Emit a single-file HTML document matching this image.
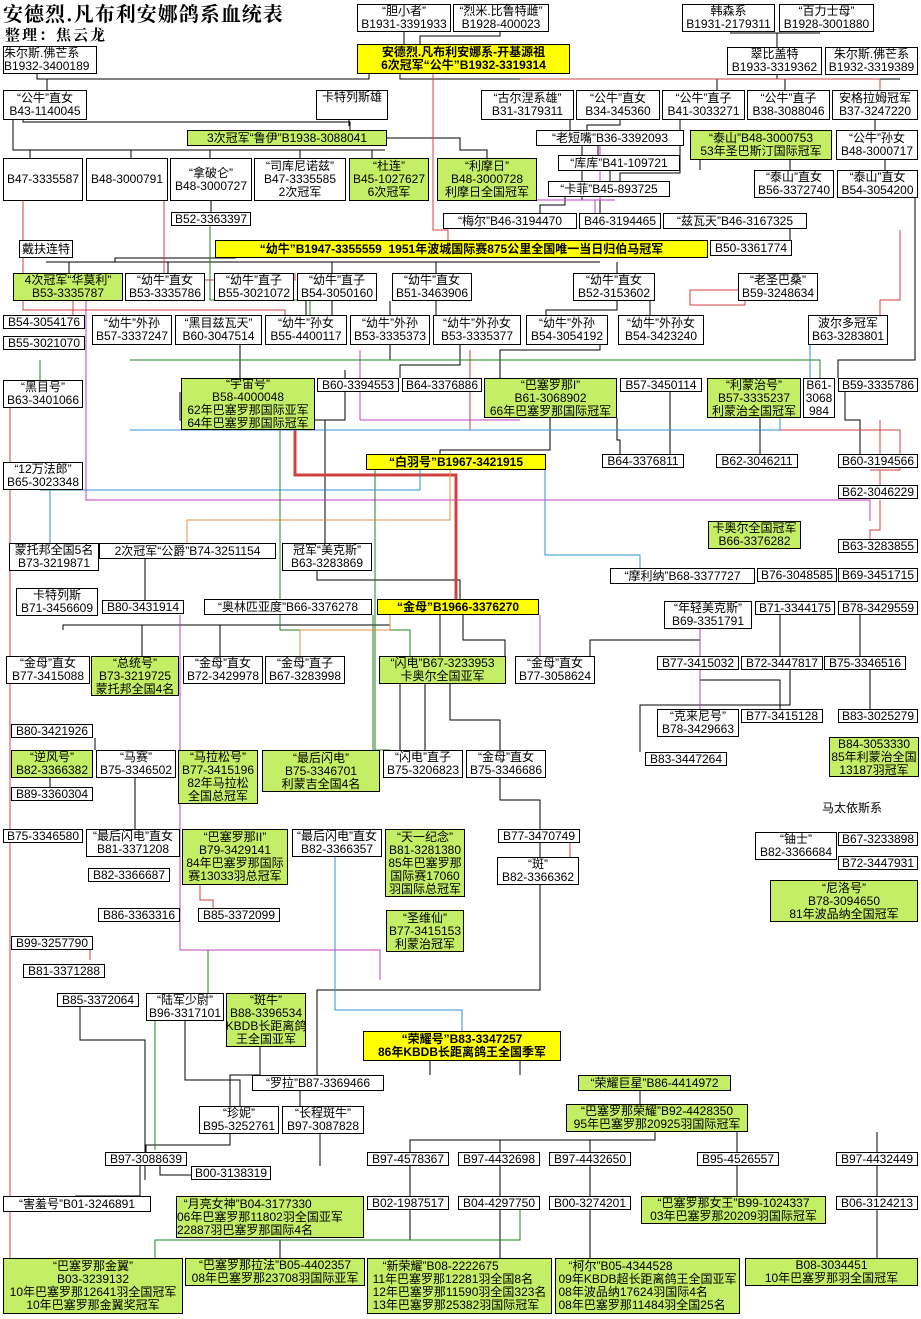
<!DOCTYPE html>
<html><head><meta charset="utf-8"><style>
html,body{margin:0;padding:0;background:#fff}
body{width:921px;height:1319px;position:relative;overflow:hidden;font-family:"Liberation Sans","WenQuanYi Zen Hei","Noto Sans CJK SC",sans-serif}
.n{position:absolute;border:1px solid #000;background:#fff;font-size:12px;line-height:13px;text-align:center;white-space:nowrap;overflow:hidden;box-sizing:border-box;display:flex;align-items:center;justify-content:center;z-index:2}
.g{background:#c4ee66}
.y{background:#ffff00;font-weight:bold}
svg{position:absolute;left:0;top:0;z-index:1}
.t{position:absolute;font-family:"Noto Serif CJK SC","Liberation Serif",serif;font-weight:bold;white-space:nowrap}
</style></head><body>
<div class="t" style="left:3px;top:-2px;font-size:20px;letter-spacing:1px">安德烈.凡布利安娜鸽系血统表</div>
<div class="t" style="left:5px;top:24px;font-size:15px;letter-spacing:2px">整理：焦云龙</div>
<svg width="921" height="1319" fill="none" stroke-width="1">
<g stroke="#000">
<path d="M404 32V44M500 32V36H420V44M730 33H820M777 33V47"/>
<path d="M37 74V79H369V74M47 79V90M400 74V79H900M717 79V90M785 79V90M777 75V79"/>
<path d="M23 120V122H350V130M349 120V126M13 120V150H385M30 150V158M131 150V158M210 150V158M300 150V158M372 150V158M387 138H460V150H487V158"/>
<path d="M211 201V212M115 262V258H235V248M46 262H600M69 262V273M168 262V273M332 262V273M436 262V273M617 262V273"/>
<path d="M617 301V310H546V315M650 301V315M436 301V315M390 301V315M332 301V315M306 301V315"/>
<path d="M570 120V130M620 120V125H587V130M598 146V155M610 171V181M680 120V173H620V181M582 146V200H600V213M565 197V205H540V213M700 160V170M790 160V170M885 160V170M875 120V130M790 229V240"/>
<path d="M915 198V360H838V378M600 345V350H500V378M390 345V360H360V378M240 345V360H240V378M460 345V365H400V378"/>
<path d="M180 392V420H345V392M325 420V543M345 392V370M550 392V450H440V454M617 418V440H620V454M670 392V454M760 392V454M845 392V420H860V454"/>
<path d="M145 556V600M317 571V580H460V599M390 615V625H63V630M142 625V656M220 625V656M463 615V640H505V656M440 615V656M700 629V640H590V656M780 615V656M860 615V656"/>
<path d="M700 669V680H780V709M790 669V705H640V752M870 669V709M400 684V750M425 684V750M450 684V720H500V750M500 764V800H540V829M540 843V857M95 738V750M50 778V787M135 778V829M520 1060V1075M430 1060V1075M540 885V990H317V1075M260 1047V1075H230V1106M300 1091V1106"/>
<path d="M640 1091V1104M655 1132V1140H410V1152M500 1140V1152M590 1140V1152M737 1132V1152M877 1132V1152M410 1166V1196M500 1166V1196M590 1166V1196M877 1166V1196M737 1166V1196M590 1210V1258M877 1210V1258M500 1210V1258M410 1210V1240H280V1258"/>
<path d="M230 1134V1145H146V1152M320 1134V1166M140 1166V1196H75M191 1175H160V1152M80 1007V1040H145V1180M185 1007V1080H240V1106"/>
</g>
<g stroke="#d04040">
<path d="M433 74V230H448V240M520 79H880V90M164 201V280H295V273M745 301V305H690V290H776V273M23 201V310H285V315M10 388V1260M73 290V315M900 230V300H880V315M880 420V454M880 470V485M880 500V530H870V539M470 350V430H900V470H870"/>
<path d="M200 880V900H213V908M90 940V960M570 843V857"/>
<path d="M295 430V475H456V599" stroke-width="3"/>
</g>
<g stroke="#c040c0">
<path d="M600 135V200H595V213M535 200H615M86 301V500H870V521M180 615V950H380V980M360 350V420M360 420H520M700 629V690M540 615V656M700 684V709"/>
</g>
<g stroke="#208020">
<path d="M210 212V300H310V315M130 360H820V378M40 360V380M280 430V630H410V656M375 470V750H390M373 615V760M520 1210V1240H155V1258M208 950V1000M155 1007V1150"/>
</g>
<g stroke="#3090d0">
<path d="M40 490H420V455M50 490V543M130 430H780V378M420 455H545V555H640V568M335 829V1010H462V1031M810 330V410"/>
</g>
<g stroke="#e09040">
<path d="M450 470V520H187V543M390 615V630H300V656"/>
</g>
</svg>

<div class="n" style="left:357px;top:4px;width:94px;height:28px">“胆小者”<br>B1931-3391933</div>
<div class="n" style="left:453px;top:4px;width:96px;height:28px">“烈米.比鲁特雌”<br>B1928-400023</div>
<div class="n" style="left:682px;top:4px;width:93px;height:28px">韩森系<br>B1931-2179311</div>
<div class="n" style="left:779px;top:4px;width:95px;height:28px">“百力士母”<br>B1928-3001880</div>
<div class="n y" style="left:357px;top:44px;width:213px;height:30px">安德烈.凡布利安娜系-开基源祖<br>6次冠军“公牛”B1932-3319314</div>
<div class="n" style="left:3px;top:46px;width:94px;height:28px;justify-content:flex-start;text-align:left">朱尔斯.佛芒系<br>B1932-3400189</div>
<div class="n" style="left:727px;top:47px;width:95px;height:28px">翠比盖特<br>B1933-3319362</div>
<div class="n" style="left:825px;top:47px;width:93px;height:28px">朱尔斯.佛芒系<br>B1932-3319389</div>

<div class="n" style="left:3px;top:90px;width:84px;height:30px">“公牛”直女<br>B43-1140045</div>
<div class="n" style="left:316px;top:90px;width:72px;height:30px;align-items:flex-start">卡特列斯雄</div>
<div class="n" style="left:481px;top:90px;width:93px;height:30px">“古尔涅系雄”<br>B31-3179311</div>
<div class="n" style="left:576px;top:90px;width:84px;height:30px">“公牛”直女<br>B34-345360</div>
<div class="n" style="left:662px;top:90px;width:83px;height:30px">“公牛”直子<br>B41-3033271</div>
<div class="n" style="left:747px;top:90px;width:83px;height:30px">“公牛”直子<br>B38-3088046</div>
<div class="n" style="left:832px;top:90px;width:86px;height:30px">安格拉姆冠军<br>B37-3247220</div>

<div class="n g" style="left:187px;top:130px;width:200px;height:16px">3次冠军“鲁伊”B1938-3088041</div>
<div class="n" style="left:536px;top:130px;width:148px;height:16px">“老短嘴”B36-3392093</div>
<div class="n g" style="left:690px;top:130px;width:142px;height:30px">“泰山”B48-3000753<br>53年圣巴斯汀国际冠军</div>
<div class="n" style="left:836px;top:130px;width:82px;height:30px">“公牛”孙女<br>B48-3000717</div>
<div class="n" style="left:558px;top:155px;width:122px;height:16px">“库库”B41-109721</div>
<div class="n" style="left:3px;top:158px;width:80px;height:43px">B47-3335587</div>
<div class="n" style="left:86px;top:158px;width:82px;height:43px">B48-3000791</div>
<div class="n" style="left:170px;top:158px;width:82px;height:43px">“拿破仑”<br>B48-3000727</div>
<div class="n" style="left:254px;top:158px;width:92px;height:43px">“司库尼诺兹”<br>B47-3335585<br>2次冠军</div>
<div class="n g" style="left:349px;top:158px;width:80px;height:43px">“杜连”<br>B45-1027627<br>6次冠军</div>
<div class="n g" style="left:437px;top:158px;width:100px;height:43px">“利摩日”<br>B48-3000728<br>利摩日全国冠军</div>
<div class="n" style="left:754px;top:170px;width:80px;height:28px">“泰山”直女<br>B56-3372740</div>
<div class="n" style="left:837px;top:170px;width:81px;height:28px">“泰山”直女<br>B54-3054200</div>
<div class="n" style="left:548px;top:181px;width:122px;height:16px">“卡菲”B45-893725</div>
<div class="n" style="left:171px;top:212px;width:80px;height:14px">B52-3363397</div>
<div class="n" style="left:443px;top:213px;width:134px;height:16px">“梅尔”B46-3194470</div>
<div class="n" style="left:579px;top:213px;width:82px;height:16px">B46-3194465</div>
<div class="n" style="left:663px;top:213px;width:144px;height:16px">“兹瓦天”B46-3167325</div>
<div class="n" style="left:19px;top:240px;width:54px;height:18px">戴扶连特</div>
<div class="n y" style="left:215px;top:240px;width:493px;height:18px">“幼牛”B1947-3355559&nbsp; 1951年波城国际赛875公里全国唯一当日归伯马冠军</div>
<div class="n" style="left:710px;top:240px;width:82px;height:16px">B50-3361774</div>

<div class="n g" style="left:13px;top:273px;width:110px;height:28px">4次冠军“华莫利”<br>B53-3335787</div>
<div class="n" style="left:125px;top:273px;width:80px;height:28px">“幼牛”直女<br>B53-3335786</div>
<div class="n" style="left:214px;top:273px;width:80px;height:28px">“幼牛”直子<br>B55-3021072</div>
<div class="n" style="left:297px;top:273px;width:80px;height:28px">“幼牛”直子<br>B54-3050160</div>
<div class="n" style="left:392px;top:273px;width:80px;height:28px">“幼牛”直女<br>B51-3463906</div>
<div class="n" style="left:573px;top:273px;width:82px;height:28px">“幼牛”直女<br>B52-3153602</div>
<div class="n" style="left:738px;top:273px;width:80px;height:28px">“老圣巴桑”<br>B59-3248634</div>

<div class="n" style="left:3px;top:315px;width:82px;height:14px">B54-3054176</div>
<div class="n" style="left:92px;top:315px;width:80px;height:30px">“幼牛”外孙<br>B57-3337247</div>
<div class="n" style="left:175px;top:315px;width:87px;height:30px">“黑目兹瓦天”<br>B60-3047514</div>
<div class="n" style="left:265px;top:315px;width:82px;height:30px">“幼牛”孙女<br>B55-4400117</div>
<div class="n" style="left:350px;top:315px;width:80px;height:30px">“幼牛”外孙<br>B53-3335373</div>
<div class="n" style="left:433px;top:315px;width:88px;height:30px">“幼牛”外孙女<br>B53-3335377</div>
<div class="n" style="left:526px;top:315px;width:82px;height:30px">“幼牛”外孙<br>B54-3054192</div>
<div class="n" style="left:618px;top:315px;width:86px;height:30px">“幼牛”外孙女<br>B54-3423240</div>
<div class="n" style="left:808px;top:315px;width:80px;height:30px">波尔多冠军<br>B63-3283801</div>
<div class="n" style="left:3px;top:336px;width:82px;height:14px">B55-3021070</div>

<div class="n" style="left:3px;top:380px;width:80px;height:28px">“黑目号”<br>B63-3401066</div>
<div class="n g" style="left:181px;top:378px;width:134px;height:52px">“宇宙号”<br>B58-4000048<br>62年巴塞罗那国际亚军<br>64年巴塞罗那国际冠军</div>
<div class="n" style="left:317px;top:378px;width:82px;height:14px">B60-3394553</div>
<div class="n" style="left:402px;top:378px;width:80px;height:14px">B64-3376886</div>
<div class="n g" style="left:484px;top:378px;width:133px;height:40px">“巴塞罗那I”<br>B61-3068902<br>66年巴塞罗那国际冠军</div>
<div class="n" style="left:620px;top:378px;width:82px;height:14px">B57-3450114</div>
<div class="n g" style="left:707px;top:378px;width:94px;height:40px">“利蒙治号”<br>B57-3335237<br>利蒙治全国冠军</div>
<div class="n" style="left:803px;top:378px;width:32px;height:40px">B61-<br>3068<br>984</div>
<div class="n" style="left:838px;top:378px;width:80px;height:14px">B59-3335786</div>

<div class="n y" style="left:366px;top:454px;width:180px;height:16px">“白羽号”B1967-3421915</div>
<div class="n" style="left:3px;top:462px;width:80px;height:28px">“12万法郎”<br>B65-3023348</div>
<div class="n" style="left:602px;top:454px;width:82px;height:14px">B64-3376811</div>
<div class="n" style="left:716px;top:454px;width:82px;height:14px">B62-3046211</div>
<div class="n" style="left:838px;top:454px;width:80px;height:14px">B60-3194566</div>
<div class="n" style="left:838px;top:485px;width:80px;height:14px">B62-3046229</div>
<div class="n g" style="left:708px;top:521px;width:93px;height:28px">卡奥尔全国冠军<br>B66-3376282</div>
<div class="n" style="left:838px;top:539px;width:80px;height:14px">B63-3283855</div>
<div class="n" style="left:9px;top:543px;width:90px;height:28px">蒙托邦全国5名<br>B73-3219871</div>
<div class="n" style="left:99px;top:543px;width:177px;height:16px">2次冠军“公爵”B74-3251154</div>
<div class="n" style="left:282px;top:543px;width:90px;height:28px">冠军“美克斯”<br>B63-3283869</div>
<div class="n" style="left:610px;top:568px;width:145px;height:16px">“摩利纳”B68-3377727</div>
<div class="n" style="left:757px;top:568px;width:80px;height:14px">B76-3048585</div>
<div class="n" style="left:838px;top:568px;width:80px;height:14px">B69-3451715</div>
<div class="n" style="left:16px;top:588px;width:82px;height:28px">卡特列斯<br>B71-3456609</div>
<div class="n" style="left:102px;top:600px;width:82px;height:14px">B80-3431914</div>
<div class="n" style="left:204px;top:599px;width:168px;height:16px">“奥林匹亚度”B66-3376278</div>
<div class="n y" style="left:377px;top:599px;width:162px;height:16px">“金母”B1966-3376270</div>
<div class="n" style="left:664px;top:601px;width:88px;height:28px">“年轻美克斯”<br>B69-3351791</div>
<div class="n" style="left:755px;top:601px;width:80px;height:14px">B71-3344175</div>
<div class="n" style="left:838px;top:601px;width:80px;height:14px">B78-3429559</div>

<div class="n" style="left:6px;top:656px;width:84px;height:28px">“金母”直女<br>B77-3415088</div>
<div class="n g" style="left:91px;top:656px;width:88px;height:40px">“总统号”<br>B73-3219725<br>蒙托邦全国4名</div>
<div class="n" style="left:183px;top:656px;width:80px;height:28px">“金母”直女<br>B72-3429978</div>
<div class="n" style="left:265px;top:656px;width:80px;height:28px">“金母”直子<br>B67-3283998</div>
<div class="n g" style="left:379px;top:656px;width:127px;height:28px">“闪电”B67-3233953<br>卡奥尔全国亚军</div>
<div class="n" style="left:515px;top:656px;width:80px;height:28px">“金母”直女<br>B77-3058624</div>
<div class="n" style="left:657px;top:656px;width:82px;height:14px">B77-3415032</div>
<div class="n" style="left:741px;top:656px;width:82px;height:14px">B72-3447817</div>
<div class="n" style="left:824px;top:656px;width:82px;height:14px">B75-3346516</div>
<div class="n" style="left:657px;top:709px;width:82px;height:28px">“克来尼号”<br>B78-3429663</div>
<div class="n" style="left:741px;top:709px;width:82px;height:14px">B77-3415128</div>
<div class="n" style="left:838px;top:709px;width:80px;height:14px">B83-3025279</div>
<div class="n" style="left:11px;top:724px;width:82px;height:14px">B80-3421926</div>
<div class="n g" style="left:829px;top:737px;width:90px;height:40px">B84-3053330<br>85年利蒙治全国<br>13187羽冠军</div>

<div class="n g" style="left:11px;top:750px;width:82px;height:28px">“逆风号”<br>B82-3366382</div>
<div class="n" style="left:96px;top:750px;width:80px;height:28px">“马赛”<br>B75-3346502</div>
<div class="n g" style="left:178px;top:750px;width:80px;height:54px">“马拉松号”<br>B77-3415196<br>82年马拉松<br>全国总冠军</div>
<div class="n g" style="left:262px;top:750px;width:118px;height:42px">“最后闪电”<br>B75-3346701<br>利蒙吉全国4名</div>
<div class="n" style="left:383px;top:750px;width:80px;height:28px">“闪电”直子<br>B75-3206823</div>
<div class="n" style="left:466px;top:750px;width:80px;height:28px">“金母”直女<br>B75-3346686</div>
<div class="n" style="left:645px;top:752px;width:82px;height:14px">B83-3447264</div>
<div class="n" style="left:11px;top:787px;width:82px;height:14px">B89-3360304</div>
<div class="n" style="left:821px;top:800px;width:97px;height:16px;border-color:#fff;justify-content:flex-start">马太依斯系</div>

<div class="n" style="left:3px;top:829px;width:80px;height:14px">B75-3346580</div>
<div class="n" style="left:86px;top:829px;width:94px;height:28px">“最后闪电”直女<br>B81-3371208</div>
<div class="n g" style="left:182px;top:829px;width:106px;height:56px">“巴塞罗那II”<br>B79-3429141<br>84年巴塞罗那国际<br>赛13033羽总冠军</div>
<div class="n" style="left:292px;top:829px;width:90px;height:28px">“最后闪电”直女<br>B82-3366357</div>
<div class="n g" style="left:385px;top:829px;width:80px;height:68px">“天一纪念”<br>B81-3281380<br>85年巴塞罗那<br>国际赛17060<br>羽国际总冠军</div>
<div class="n" style="left:498px;top:829px;width:82px;height:14px">B77-3470749</div>
<div class="n" style="left:838px;top:832px;width:80px;height:14px">B67-3233898</div>
<div class="n" style="left:755px;top:832px;width:82px;height:28px">“铀士”<br>B82-3366684</div>
<div class="n" style="left:497px;top:857px;width:82px;height:28px">“斑”<br>B82-3366362</div>
<div class="n" style="left:838px;top:856px;width:80px;height:14px">B72-3447931</div>
<div class="n" style="left:88px;top:868px;width:82px;height:14px">B82-3366687</div>
<div class="n g" style="left:770px;top:880px;width:148px;height:42px">“尼洛号”<br>B78-3094650<br>81年波品纳全国冠军</div>
<div class="n" style="left:98px;top:908px;width:82px;height:14px">B86-3363316</div>
<div class="n" style="left:198px;top:908px;width:82px;height:14px">B85-3372099</div>
<div class="n g" style="left:386px;top:910px;width:78px;height:42px">“圣维仙”<br>B77-3415153<br>利蒙治冠军</div>
<div class="n" style="left:11px;top:936px;width:82px;height:14px">B99-3257790</div>
<div class="n" style="left:23px;top:964px;width:82px;height:14px">B81-3371288</div>
<div class="n" style="left:57px;top:993px;width:82px;height:14px">B85-3372064</div>
<div class="n" style="left:146px;top:993px;width:78px;height:28px">“陆军少尉”<br>B96-3317101</div>
<div class="n g" style="left:226px;top:993px;width:80px;height:54px">“斑牛”<br>B88-3396534<br>KBDB长距离鸽<br>王全国亚军</div>
<div class="n y" style="left:363px;top:1031px;width:198px;height:30px">“荣耀号”B83-3347257<br>86年KBDB长距离鸽王全国季军</div>
<div class="n" style="left:252px;top:1075px;width:132px;height:16px">“罗拉”B87-3369466</div>
<div class="n g" style="left:578px;top:1075px;width:153px;height:16px">“荣耀巨星”B86-4414972</div>
<div class="n" style="left:199px;top:1106px;width:80px;height:28px">“珍妮”<br>B95-3252761</div>
<div class="n" style="left:282px;top:1106px;width:82px;height:28px">“长程斑牛”<br>B97-3087828</div>
<div class="n g" style="left:566px;top:1104px;width:182px;height:28px">“巴塞罗那荣耀”B92-4428350<br>95年巴塞罗那20925羽国际冠军</div>
<div class="n" style="left:105px;top:1152px;width:82px;height:14px">B97-3088639</div>
<div class="n" style="left:191px;top:1166px;width:80px;height:14px">B00-3138319</div>
<div class="n" style="left:367px;top:1152px;width:82px;height:14px">B97-4578367</div>
<div class="n" style="left:458px;top:1152px;width:82px;height:14px">B97-4432698</div>
<div class="n" style="left:549px;top:1152px;width:82px;height:14px">B97-4432650</div>
<div class="n" style="left:697px;top:1152px;width:82px;height:14px">B95-4526557</div>
<div class="n" style="left:836px;top:1152px;width:82px;height:14px">B97-4432449</div>
<div class="n" style="left:3px;top:1196px;width:148px;height:16px">“害羞号”B01-3246891</div>
<div class="n g" style="left:176px;top:1196px;width:188px;height:42px;justify-content:flex-start;text-align:left">&nbsp;&nbsp;“月亮女神”B04-3177330<br>06年巴塞罗那11802羽全国亚军<br>22887羽巴塞罗那国际4名</div>
<div class="n" style="left:367px;top:1196px;width:82px;height:14px">B02-1987517</div>
<div class="n" style="left:458px;top:1196px;width:82px;height:14px">B04-4297750</div>
<div class="n" style="left:549px;top:1196px;width:82px;height:14px">B00-3274201</div>
<div class="n g" style="left:641px;top:1196px;width:185px;height:28px">“巴塞罗那女王”B99-1024337<br>03年巴塞罗那20209羽国际冠军</div>
<div class="n" style="left:836px;top:1196px;width:82px;height:14px">B06-3124213</div>

<div class="n g" style="left:3px;top:1258px;width:180px;height:56px">“巴塞罗那金翼”<br>B03-3239132<br>10年巴塞罗那12641羽全国冠军<br>10年巴塞罗那金翼奖冠军</div>
<div class="n g" style="left:185px;top:1258px;width:180px;height:28px">“巴塞罗那拉法”B05-4402357<br>08年巴塞罗那23708羽国际亚军</div>
<div class="n g" style="left:367px;top:1258px;width:185px;height:56px;text-align:left">&nbsp;&nbsp;&nbsp;“新荣耀”B08-2222675<br>11年巴塞罗那12281羽全国8名<br>12年巴塞罗那11590羽全国323名<br>13年巴塞罗那25382羽国际冠军</div>
<div class="n g" style="left:555px;top:1258px;width:185px;height:56px;text-align:left">&nbsp;&nbsp;&nbsp;“柯尔”B05-4344528<br>09年KBDB超长距离鸽王全国亚军<br>08年波品纳17624羽国际4名<br>08年巴塞罗那11484羽全国25名</div>
<div class="n g" style="left:745px;top:1258px;width:173px;height:28px">B08-3034451<br>10年巴塞罗那羽全国冠军</div>
</body></html>
